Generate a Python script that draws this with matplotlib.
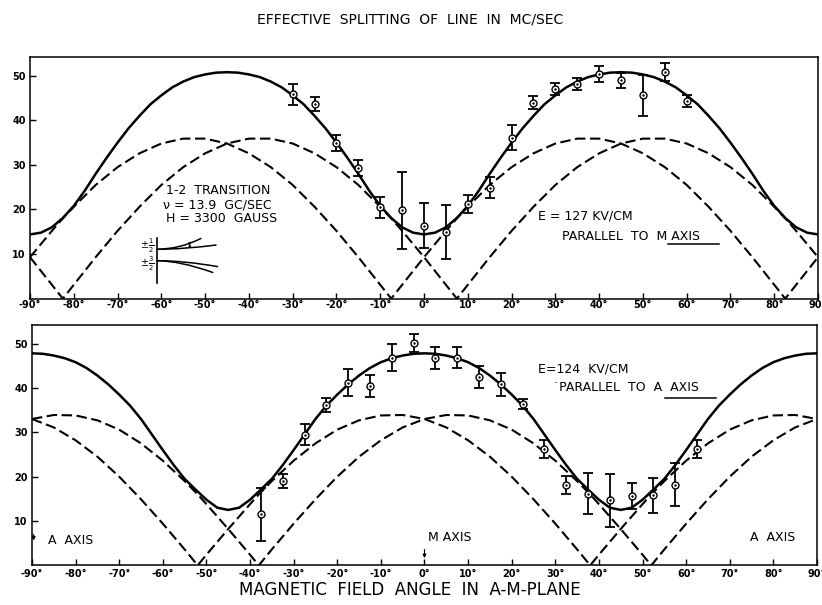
import numpy as np
import matplotlib.pyplot as plt
from matplotlib.path import Path
from matplotlib.patches import PathPatch

# ---- top panel (E parallel to M axis), angle grid with the cusp points
theta_top = [-90, -85, -82.5, -80, -75, -70, -65, -60, -55, -50, -45, -40, -35, -30,
             -25, -20, -15, -10, -7.5, -5, 0, 5, 7.5, 10, 15, 20, 25, 30, 35, 40, 45,
             50, 55, 60, 65, 70, 75, 80, 82.5, 85, 90]
dash1_top = [9.3, 3.1, 0, 3.1, 9.3, 15.2, 20.6, 25.5, 29.5, 32.6, 34.8, 35.9, 35.9, 34.8,
             32.6, 29.5, 25.5, 20.6, 18.0, 15.2, 9.3, 3.1, 0, 3.1, 9.3, 15.2, 20.6, 25.5,
             29.5, 32.6, 34.8, 35.9, 35.9, 34.8, 32.6, 29.5, 25.5, 20.6, 18.0, 15.2, 9.3]
dash2_top = [9.3, 15.2, 18.0, 20.6, 25.5, 29.5, 32.6, 34.8, 35.9, 35.9, 34.8, 32.6, 29.5,
             25.5, 20.6, 15.2, 9.3, 3.1, 0, 3.1, 9.3, 15.2, 18.0, 20.6, 25.5, 29.5, 32.6,
             34.8, 35.9, 35.9, 34.8, 32.6, 29.5, 25.5, 20.6, 15.2, 9.3, 3.1, 0, 3.1, 9.3]

# solid curve read every 2.5 degrees
theta_fine = [-90 + 2.5 * i for i in range(73)]
solid_top = [14.4, 14.8, 16.0, 18.1, 20.8, 24.2, 28.0, 31.6, 35.0, 38.2, 41.0, 43.6, 45.6,
             47.4, 48.7, 49.7, 50.3, 50.7, 50.8,
             50.7, 50.3, 49.7, 48.7, 47.4, 45.6, 43.6, 41.0, 38.2, 35.0, 31.6, 28.0, 24.2,
             20.8, 18.1, 16.0, 14.8, 14.4,
             14.8, 16.0, 18.1, 20.8, 24.2, 28.0, 31.6, 35.0, 38.2, 41.0, 43.6, 45.6, 47.4,
             48.7, 49.7, 50.3, 50.7, 50.8,
             50.7, 50.3, 49.7, 48.7, 47.4, 45.6, 43.6, 41.0, 38.2, 35.0, 31.6, 28.0, 24.2,
             20.8, 18.1, 16.0, 14.8, 14.4]

ang_top = [-30, -25, -20, -15, -10, -5, 0, 5, 10, 15, 20, 25, 30, 35, 40, 45, 50, 55, 60]
obs_top = [45.8, 43.6, 35.0, 29.4, 20.5, 19.8, 16.4, 15.0, 21.3, 24.9, 36.1, 44.0, 47.0,
           48.1, 50.3, 49.0, 45.6, 50.9, 44.4]
err_top = [2.4, 1.6, 1.8, 1.8, 2.4, 8.7, 5.0, 6.0, 2.0, 2.3, 2.8, 1.5, 1.4, 1.4, 1.8, 1.7,
           4.6, 2.0, 1.3]

# ---- bottom panel (E parallel to A axis)
theta_bot = [-90, -85, -80, -75, -70, -65, -60, -55, -52, -50, -45, -40, -38, -35, -30,
             -25, -20, -15, -10, -5, 0, 5, 10, 15, 20, 25, 30, 35, 38, 40, 45, 50, 52,
             55, 60, 65, 70, 75, 80, 85, 90]
dash1_bot = [33.0, 33.9, 33.8, 32.7, 30.6, 27.5, 23.6, 19.0, 16.0, 13.8, 8.2, 2.4, 0,
             3.6, 9.4, 14.9, 20.0, 24.5, 28.2, 31.1, 33.0, 33.9, 33.8, 32.7, 30.6, 27.5,
             23.6, 19.0, 16.0, 13.8, 8.2, 2.4, 0, 3.6, 9.4, 14.9, 20.0, 24.5, 28.2, 31.1,
             33.0]
dash2_bot = [33.0, 31.1, 28.2, 24.5, 20.0, 14.9, 9.4, 3.6, 0, 2.4, 8.2, 13.8, 16.0, 19.0,
             23.6, 27.5, 30.6, 32.7, 33.8, 33.9, 33.0, 31.1, 28.2, 24.5, 20.0, 14.9, 9.4,
             3.6, 0, 2.4, 8.2, 13.8, 16.0, 19.0, 23.6, 27.5, 30.6, 32.7, 33.8, 33.9, 33.0]
solid_bot = [47.8, 47.7, 47.3, 46.7, 45.8, 44.5, 42.8, 40.8, 38.5, 36.0, 33.0, 29.5, 26.0,
             22.6, 19.5, 17.1, 14.8, 13.0, 12.5,
             13.0, 14.8, 17.1, 19.5, 22.6, 26.0, 29.5, 33.0, 36.0, 38.5, 40.8, 42.8, 44.5,
             45.8, 46.7, 47.3, 47.7, 47.8,
             47.7, 47.3, 46.7, 45.8, 44.5, 42.8, 40.8, 38.5, 36.0, 33.0, 29.5, 26.0, 22.6,
             19.5, 17.1, 14.8, 13.0, 12.5,
             13.0, 14.8, 17.1, 19.5, 22.6, 26.0, 29.5, 33.0, 36.0, 38.5, 40.8, 42.8, 44.5,
             45.8, 46.7, 47.3, 47.7, 47.8]

ang_bot = [-37.5, -32.5, -27.5, -22.5, -17.5, -12.5, -7.5, -2.5, 2.5, 7.5, 12.5, 17.5,
           22.5, 27.5, 32.5, 37.5, 42.5, 47.5, 52.5, 57.5, 62.5]
obs_bot = [11.5, 19.0, 29.5, 36.2, 41.2, 40.4, 46.8, 50.1, 46.7, 46.8, 42.4, 40.8, 36.4,
           26.2, 18.2, 16.2, 14.7, 15.7, 15.8, 18.2, 26.2]
err_bot = [5.9, 1.6, 2.3, 1.6, 3.0, 2.5, 3.0, 2.0, 2.5, 2.4, 2.5, 2.6, 1.1, 2.0, 2.0, 4.6,
           6.0, 2.9, 3.9, 4.8, 2.0]

xticks = list(range(-90, 91, 10))
yticks = [10, 20, 30, 40, 50]

plt.rcParams['font.family'] = 'DejaVu Sans'
fig = plt.figure(figsize=(8.22, 6.05), dpi=100)
ax1 = fig.add_axes([0.0365, 0.5064, 0.9587, 0.3993])
ax2 = fig.add_axes([0.0389, 0.0655, 0.955, 0.3974])

dash = (0, (5, 2.2))


def panel(ax, th, d1, d2, s, ang, obs, err, xpad):
    ax.plot(theta_fine, s, color='black', lw=1.8, solid_capstyle='round')
    ax.plot(th, d1, color='black', lw=1.5, linestyle=dash)
    ax.plot(th, d2, color='black', lw=1.5, linestyle=dash)
    ax.errorbar(ang, obs, yerr=err, fmt='none', ecolor='black', elinewidth=1.3,
                capsize=3.5, capthick=1.3, zorder=3)
    ax.plot(ang, obs, 'o', ms=5, mfc='white', mec='black', mew=1.0, zorder=4)
    ax.plot(ang, obs, '.', ms=1.5, color='black', zorder=5)
    ax.set_xlim(-90, 90)
    ax.set_ylim(0, 54.2)
    ax.set_xticks(xticks)
    ax.set_xticklabels([f"{t}\u00b0" for t in xticks])
    ax.set_yticks(yticks)
    ax.tick_params(direction='in', length=4, width=1, labelsize=7)
    ax.tick_params(axis='x', pad=xpad)
    ax.tick_params(axis='y', pad=3)
    for lbl in ax.get_xticklabels() + ax.get_yticklabels():
        lbl.set_fontweight('bold')
    for sp in ax.spines.values():
        sp.set_linewidth(1.1)


panel(ax1, theta_top, dash1_top, dash2_top, solid_top, ang_top, obs_top, err_top, 1.0)
panel(ax2, theta_bot, dash1_bot, dash2_bot, solid_bot, ang_bot, obs_bot, err_bot, 2.5)

# annotations, top panel
ax1.text(-58.9, 24.3, "1-2  TRANSITION", fontsize=9, va='center')
ax1.text(-59.6, 21.1, "\u03bd = 13.9  GC/SEC", fontsize=9, va='center')
ax1.text(-58.9, 18.0, "H = 3300  GAUSS", fontsize=9, va='center')
ax1.text(26.0, 18.6, "E = 127 KV/CM", fontsize=9, va='center')
ax1.text(31.5, 13.9, "PARALLEL  TO  M AXIS", fontsize=9, va='center')
ax1.plot([55.7, 67.4], [12.3, 12.3], color='black', lw=1.1)

# annotations, bottom panel
ax2.text(26.0, 44.2, "E=124  KV/CM", fontsize=9, va='center')
ax2.text(29.5, 40.0, "\u02d9PARALLEL  TO  A  AXIS", fontsize=9, va='center')
ax2.plot([55.2, 66.8], [37.8, 37.8], color='black', lw=1.1)
ax2.text(-86.4, 5.7, "A  AXIS", fontsize=9, va='center')
ax2.text(0.8, 6.3, "M AXIS", fontsize=9, va='center')
ax2.text(74.7, 6.2, "A  AXIS", fontsize=9, va='center')
ax2.annotate("", xy=(0, 1.0), xytext=(0, 4.2),
             arrowprops=dict(arrowstyle='-|>', color='black', lw=0.8,
                             mutation_scale=5))
ax2.annotate("", xy=(-89.6, 5.0), xytext=(-89.6, 7.6),
             arrowprops=dict(arrowstyle='-|>', color='black', lw=0.8,
                             mutation_scale=5))

# small energy level sketch
axi = fig.add_axes([0.170, 0.529, 0.0973, 0.0826])
axi.set_xlim(0, 1)
axi.set_ylim(0, 1)
axi.axis('off')
axi.plot([0.2125, 0.2125], [0.04, 0.94], color='black', lw=1.2)
curves = [
    [(0.2125, 0.714), (0.5, 0.714), (0.77, 0.934)],
    [(0.2125, 0.714), (0.55, 0.714), (0.96, 0.80)],
    [(0.2125, 0.486), (0.55, 0.486), (0.98, 0.366)],
    [(0.2125, 0.486), (0.5, 0.486), (0.92, 0.246)],
]
for c in curves:
    p = Path(c, [Path.MOVETO, Path.CURVE3, Path.CURVE3])
    axi.add_patch(PathPatch(p, fill=False, color='black', lw=1.1))
axi.annotate("", xy=(0.625, 0.88), xytext=(0.625, 0.74),
             arrowprops=dict(arrowstyle='<|-|>', color='black', lw=0.7,
                             mutation_scale=3))
axi.text(0.1, 0.79, r"$\pm\frac{1}{2}$", fontsize=7, ha='center', va='center')
axi.text(0.1, 0.43, r"$\pm\frac{3}{2}$", fontsize=7, ha='center', va='center')

fig.text(0.499, 0.967, "EFFECTIVE  SPLITTING  OF  LINE  IN  MC/SEC", fontsize=10,
         ha='center', va='center')
fig.text(0.499, 0.0256, "MAGNETIC  FIELD  ANGLE  IN  A-M-PLANE", fontsize=12,
         ha='center', va='center')

fig.savefig("out.png", dpi=100)
